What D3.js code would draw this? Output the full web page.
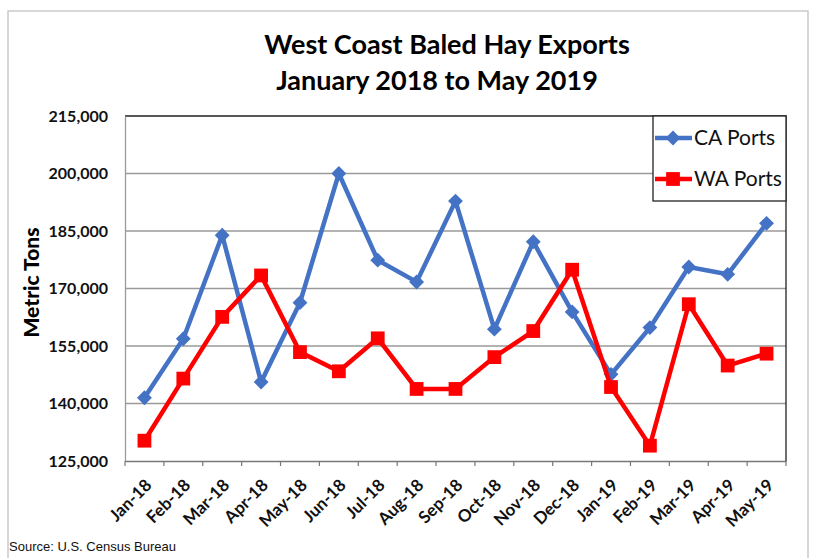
<!DOCTYPE html>
<html>
<head>
<meta charset="utf-8">
<script src="https://cdn.jsdelivr.net/npm/d3@7"></script>
<style>
  body { margin: 0; background: #fff; }
  svg { display: block; }
</style>
</head>
<body>
<svg id="chart"></svg>
<script>
// data
const months = ["Jan-18", "Feb-18", "Mar-18", "Apr-18", "May-18", "Jun-18", "Jul-18", "Aug-18", "Sep-18",
                "Oct-18", "Nov-18", "Dec-18", "Jan-19", "Feb-19", "Mar-19", "Apr-19", "May-19"];
const caPorts = [141500, 156900, 183900, 145600, 166300, 200000, 177400, 171700, 192800,
                 159400, 182200, 163900, 147600, 159800, 175600, 173700, 187000];
const waPorts = [130300, 146500, 162600, 173400, 153400, 148400, 157000, 143800, 143800,
                 152100, 158900, 174900, 144300, 129000, 165900, 149900, 153000];
const yTicks = [125000, 140000, 155000, 170000, 185000, 200000, 215000];

document.addEventListener("DOMContentLoaded", function() {
    const W = 822, H = 558;
    const margin = { top: 116, right: 36, bottom: 97, left: 125 },
        width = W - margin.left - margin.right,
        height = H - margin.top - margin.bottom;

    const svg = d3.select("#chart")
        .attr("width", W)
        .attr("height", H);

    // outer frame
    svg.append("rect")
        .attr("x", 8).attr("y", 11)
        .attr("width", 800).attr("height", 560)
        .attr("fill", "none")
        .attr("stroke", "#bdbdbd")
        .attr("stroke-width", 1.2);

    // titles
    svg.append("text")
        .attr("x", 447).attr("y", 54)
        .attr("text-anchor", "middle")
        .style("font-family", "Lato, sans-serif")
        .style("font-weight", "bold")
        .style("font-size", "27px")
        .text("West Coast Baled Hay Exports");
    svg.append("text")
        .attr("x", 437).attr("y", 90)
        .attr("text-anchor", "middle")
        .style("font-family", "Lato, sans-serif")
        .style("font-weight", "bold")
        .style("font-size", "27px")
        .text("January 2018 to May 2019");

    const g = svg.append("g")
        .attr("transform", `translate(${margin.left}, ${margin.top})`);

    // scales
    const x = d3.scaleBand()
        .domain(months)
        .range([0, width]);

    const y = d3.scaleLinear()
        .domain([125000, 215000])
        .range([height, 0]);

    // gridlines
    g.append("g")
        .selectAll("line")
        .data(yTicks.slice(1, -1))
        .enter().append("line")
        .attr("x1", 0).attr("x2", width)
        .attr("y1", d => y(d)).attr("y2", d => y(d))
        .attr("stroke", "#9a9a9a")
        .attr("stroke-width", 1.3);

    // plot border (top and right)
    g.append("path")
        .attr("d", `M0,0H${width}V${height}`)
        .attr("fill", "none")
        .attr("stroke", "#222")
        .attr("stroke-width", 1.3);

    // y axis
    const yAxis = g.append("g")
        .call(d3.axisLeft(y).tickValues(yTicks).tickSize(0).tickPadding(17).tickFormat(d3.format(",")));
    yAxis.select(".domain").attr("stroke", "#9a9a9a").attr("stroke-width", 1.3);
    yAxis.selectAll("text")
        .style("font-family", "Lato, sans-serif")
        .style("font-weight", "bold")
        .style("font-size", "16px")
        .style("fill", "#111");

    // x axis with ticks on category boundaries
    const xAxis = g.append("g")
        .attr("transform", `translate(0, ${height})`)
        .call(d3.axisBottom(x).tickSize(0));
    xAxis.select(".domain").attr("stroke", "#777").attr("stroke-width", 1.3);
    xAxis.selectAll("text")
        .style("font-family", "Lato, sans-serif")
        .style("font-weight", "bold")
        .style("font-size", "17px")
        .style("fill", "#111")
        .attr("text-anchor", "end")
        .attr("x", 0)
        .attr("y", 0)
        .attr("dy", "0.35em")
        .attr("transform", "translate(4, 21) rotate(-45)");
    xAxis.append("g")
        .selectAll("line")
        .data(months.concat(["end"]))
        .enter().append("line")
        .attr("x1", (d, i) => i * x.step())
        .attr("x2", (d, i) => i * x.step())
        .attr("y1", 0).attr("y2", 5)
        .attr("stroke", "#777")
        .attr("stroke-width", 1.2);

    // axis title
    g.append("text")
        .attr("x", -height / 2 + 6)
        .attr("y", -86)
        .attr("text-anchor", "middle")
        .attr("transform", "rotate(-90)")
        .style("font-family", "Lato, sans-serif")
        .style("font-weight", "900")
        .style("font-size", "21px")
        .text("Metric Tons");

    const cx = d => x(d) + x.bandwidth() / 2;
    const series = [
        { name: "CA Ports", values: caPorts, color: "#4472C4", marker: d3.symbolSquare, size: 110, rot: 45 },
        { name: "WA Ports", values: waPorts, color: "#FF0000", marker: d3.symbolSquare, size: 190, rot: 0 }
    ];

    series.forEach(s => {
        const line = d3.line()
            .x((d, i) => cx(months[i]))
            .y(d => y(d));
        g.append("path")
            .datum(s.values)
            .attr("d", line)
            .attr("fill", "none")
            .attr("stroke", s.color)
            .attr("stroke-width", 4.5)
            .attr("stroke-linejoin", "miter");
        g.selectAll(null)
            .data(s.values)
            .enter().append("path")
            .attr("d", d3.symbol().type(s.marker).size(s.size))
            .attr("transform", (d, i) => `translate(${cx(months[i])}, ${y(d)}) rotate(${s.rot})`)
            .attr("fill", s.color);
    });

    // legend
    const lg = svg.append("g");
    lg.append("rect")
        .attr("x", 653).attr("y", 116)
        .attr("width", 133).attr("height", 85)
        .attr("fill", "#fff")
        .attr("stroke", "#222")
        .attr("stroke-width", 1.3);
    series.forEach((s, i) => {
        const ly = 138 + i * 41;
        lg.append("line")
            .attr("x1", 655).attr("x2", 692)
            .attr("y1", ly).attr("y2", ly)
            .attr("stroke", s.color)
            .attr("stroke-width", 4.5);
        lg.append("path")
            .attr("d", d3.symbol().type(s.marker).size(s.size))
            .attr("transform", `translate(673, ${ly}) rotate(${s.rot})`)
            .attr("fill", s.color);
        lg.append("text")
            .attr("x", 694).attr("y", ly + 7)
            .style("font-family", "Lato, sans-serif")
            .style("font-size", "21px")
            .style("fill", "#111")
            .text(s.name);
    });

    // source note
    svg.append("text")
        .attr("x", 9).attr("y", 551)
        .style("font-family", "Liberation Sans, Arial, sans-serif")
        .style("font-size", "13px")
        .style("fill", "#111")
        .text("Source: U.S. Census Bureau");
});
</script>
</body>
</html>
